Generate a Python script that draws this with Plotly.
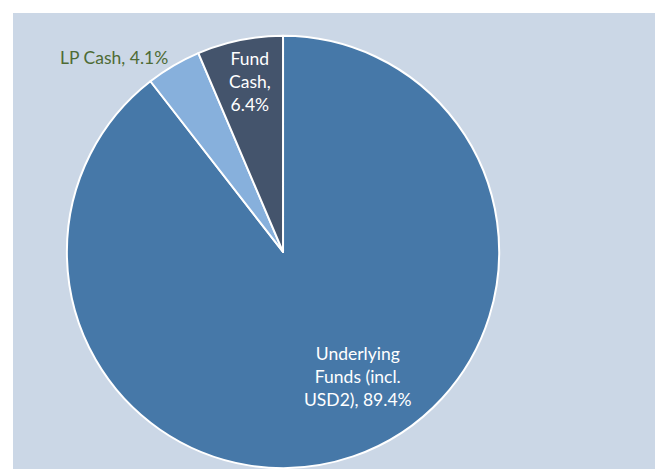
import plotly.graph_objects as go

labels = ["Underlying Funds (incl. USD2)", "LP Cash", "Fund Cash"]
values = [89.4, 4.1, 6.4]
text_labels = ["Underlying<br>Funds (incl.<br>USD2), 89.4%", "LP Cash, 4.1%", "Fund<br>Cash,<br>6.4%"]
colors = ["#4678a8", "#87b0dc", "#44546c"]
text_positions = ["inside", "outside", "inside"]

# label placement for the inside labels (paper coordinates)
inside_label_pos = {0: (0.5374, 0.2022), 2: (0.3692, 0.850)}

pie_text = [t if p == "outside" else "" for t, p in zip(text_labels, text_positions)]

fig = go.Figure()
fig.add_trace(go.Pie(
    labels=labels,
    values=values,
    text=pie_text,
    textinfo="text",
    textposition=text_positions,
    insidetextorientation="horizontal",
    sort=False,
    direction="clockwise",
    rotation=0,
    marker=dict(colors=colors, line=dict(color="white", width=2)),
    insidetextfont=dict(family="Lato", size=17.5, color="white"),
    outsidetextfont=dict(family="Lato", size=17.5, color="#4e6b35"),
    domain=dict(x=[0.0810, 0.7602], y=[0.002, 0.950]),
    showlegend=False,
    hoverinfo="label+percent",
))

annotations = []
for i, (ax, ay) in inside_label_pos.items():
    annotations.append(dict(
        x=ax, y=ay, xref="paper", yref="paper", text=text_labels[i],
        showarrow=False, align="center", xanchor="center", yanchor="middle",
        font=dict(family="Lato", size=17.5, color="white"),
    ))

fig.update_layout(
    width=657, height=473,
    margin=dict(l=13, r=2, t=13, b=0),
    paper_bgcolor="white",
    font=dict(family="Lato", size=17.5),
    annotations=annotations,
    shapes=[dict(type="rect", xref="paper", yref="paper", x0=0, x1=1, y0=0, y1=1,
                 fillcolor="#cbd7e6", line=dict(width=0), layer="below")],
)

fig.write_html("out.html")
